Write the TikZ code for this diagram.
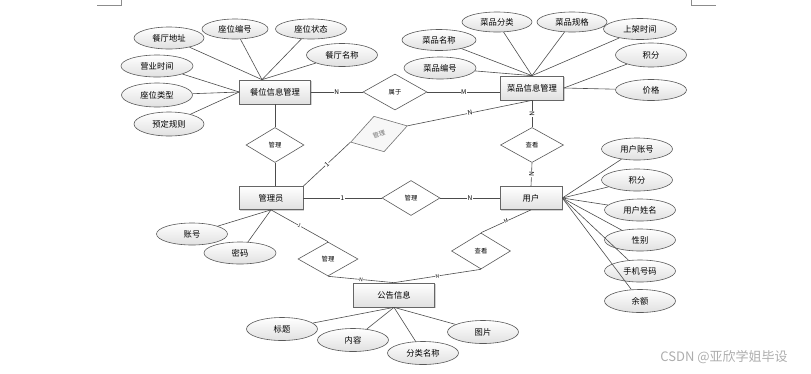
\documentclass[tikz,border=0pt]{standalone}
\usepackage{fontspec}
\newfontfamily\cjk{Noto Sans CJK SC}
\usepackage{tikz}
\usetikzlibrary{shapes.geometric,shadows}

\begin{document}
\begin{tikzpicture}[
  x=1pt, y=-1pt,
  line/.style={draw=black!70, line width=0.6pt},
  entity/.style={
    draw=black!60,
    rectangle,
    line width=0.7pt,
    top color=white,
    bottom color=black!12,
    drop shadow={shadow xshift=1.3pt, shadow yshift=-1.3pt, fill=black!35},
    minimum height=24pt,
    inner sep=1pt,
    font=\cjk\fontsize{8.3}{9}\selectfont
  },
  attr/.style={
    draw=black!65,
    ellipse,
    line width=0.6pt,
    top color=white,
    bottom color=black!12,
    minimum width=71pt,
    minimum height=22pt,
    inner sep=0pt,
    font=\cjk\fontsize{8.3}{9}\selectfont
  },
  rel/.style={
    draw=black!65,
    diamond,
    line width=0.6pt,
    fill=white,
    minimum width=60pt,
    minimum height=35pt,
    inner sep=0pt,
    font=\cjk\fontsize{6.3}{7}\selectfont
  },
  lbl/.style={fill=white, inner sep=0.4pt, midway, sloped,
    font=\cjk\fontsize{6.5}{7}\selectfont}
]
\useasboundingbox (0,0) rectangle (811,373);

\draw[black!45, line width=0.5pt] (97,5) -- (121,5) -- (121,0);
\draw[black!45, line width=0.5pt] (691,0) -- (691,5) -- (716,5);

\node[entity, minimum width=71pt] (canwei) at (275,92) {餐位信息管理};
\node[entity, minimum width=63pt] (caipin) at (532,88) {菜品信息管理};
\node[entity, minimum width=64pt, minimum height=23pt] (admin) at (271,198) {管理员};
\node[entity, minimum width=62pt, minimum height=23pt] (yonghu) at (531,198) {用户};
\node[entity, minimum width=81pt] (gonggao) at (394,295) {公告信息};

\node[rel, minimum width=64pt, minimum height=36pt] (shuyu) at (395,92) {属于};
\node[rel, minimum width=58pt] (gl1) at (275,145) {管理};
\node[rel, rotate=16, fill=black!3, draw=black!55, text=black!55, minimum width=59pt,
  minimum height=37pt] (gl2) at (379,134) {管理};
\node[rel, minimum width=58pt] (gl3) at (411,198) {管理};
\node[rel, minimum width=63pt] (ck1) at (532,145) {查看};
\node[rel, minimum height=34pt] (gl4) at (328,259) {管理};
\node[rel, minimum width=59pt, minimum height=36pt] (ck2) at (481,251) {查看};

\node[attr, minimum width=70pt] (cw1) at (169,38) {餐厅地址};
\node[attr, minimum width=66pt, minimum height=20pt] (cw2) at (235,29) {座位编号};
\node[attr, minimum height=20pt] (cw3) at (311,29) {座位状态};
\node[attr, minimum height=23pt] (cw4) at (342,55) {餐厅名称};
\node[attr, minimum width=72pt] (cw5) at (157,66) {营业时间};
\node[attr, minimum height=24pt] (cw6) at (157,95) {座位类型};
\node[attr, minimum width=70pt, minimum height=24pt] (cw7) at (169,124) {预定规则};

\node[attr, minimum width=74pt, minimum height=21pt] (cp1) at (439,40) {菜品名称};
\node[attr, minimum width=70pt, minimum height=20pt] (cp2) at (497,22) {菜品分类};
\node[attr, minimum width=70pt, minimum height=20pt] (cp3) at (572,22) {菜品规格};
\node[attr, minimum width=73pt, minimum height=21pt] (cp4) at (640,29) {上架时间};
\node[attr, minimum height=24pt] (cp5) at (651,55) {积分};
\node[attr, minimum height=21pt] (cp6) at (651,90) {价格};
\node[attr, minimum width=72pt] (cp7) at (440,68) {菜品编号};

\node[attr] (yh1) at (637,149) {用户账号};
\node[attr] (yh2) at (637,180) {积分};
\node[attr] (yh3) at (640,210) {用户姓名};
\node[attr] (yh4) at (640,240) {性别};
\node[attr] (yh5) at (640,271) {手机号码};
\node[attr, minimum height=23pt] (yh6) at (640,301) {余额};

\node[attr] (ad1) at (192,234) {账号};
\node[attr, minimum width=72pt] (ad2) at (240,253) {密码};

\node[attr, minimum height=23pt] (gg1) at (282,329) {标题};
\node[attr, minimum height=23pt] (gg2) at (353,340) {内容};
\node[attr, minimum height=23pt] (gg3) at (423,353) {分类名称};
\node[attr, minimum height=23pt] (gg4) at (483,332) {图片};

\coordinate (cwtop) at ([xshift=-13pt]canwei.north);

\draw[line] (cw1) -- (cwtop);
\draw[line] (cw2) -- (cwtop);
\draw[line] (cw3) -- (cwtop);
\draw[line] (cw4) -- (cwtop);
\draw[line] (cw5) -- (canwei.west);
\draw[line] (cw6) -- (canwei.west);
\draw[line] (cw7) -- (canwei.west);

\draw[line] (cp1) -- (caipin.north);
\draw[line] (cp2) -- (caipin.north);
\draw[line] (cp3) -- (caipin.north);
\draw[line] (cp4) -- (caipin.north);
\draw[line] (cp7) -- (caipin.north);
\draw[line] (cp5) -- (caipin.east);
\draw[line] (cp6) -- (caipin.east);

\draw[line] (yh1) -- (yonghu.east);
\draw[line] (yh2) -- (yonghu.east);
\draw[line] (yh3) -- (yonghu.east);
\draw[line] (yh4) -- (yonghu.east);
\draw[line] (yh5) -- (yonghu.east);
\draw[line] (yh6) -- (yonghu.east);

\draw[line] (ad1) -- (admin.south);
\draw[line] (ad2) -- (admin.south);

\draw[line] (gg1) -- (gonggao.south);
\draw[line] (gg2) -- (gonggao.south);
\draw[line] (gg3) -- (gonggao.south);
\draw[line] (gg4) -- (gonggao.south);

\draw[line] (canwei.east) -- node[lbl] {N} (shuyu.west);
\draw[line] (shuyu.east) -- node[lbl] {M} (shuyu.east -| caipin.west);
\draw[line] (canwei.south) -- (gl1.north);
\draw[line] (gl1.south) -- (gl1.south |- admin.north);
\draw[line] (admin.north east) -- node[lbl] {1} (gl2.west);
\draw[line] (gl2.east) -- node[lbl] {N} (caipin.south);
\draw[line] (caipin.south) -- node[lbl] {N} (ck1.north);
\draw[line] (ck1.south) -- node[lbl] {N} (yonghu.north);
\draw[line] (admin.east) -- node[lbl] {1} (gl3.west);
\draw[line] (gl3.east) -- node[lbl] {N} (yonghu.west);
\draw[line] (admin.south) -- node[lbl, font=\cjk\fontsize{5}{6}\selectfont] {1} (gl4.north);
\draw[line] (gl4.south) -- node[lbl, font=\cjk\fontsize{5}{6}\selectfont] {N} (gonggao.north);
\draw[line] (yonghu.south) -- node[lbl, font=\cjk\fontsize{5}{6}\selectfont] {M} (ck2.north);
\draw[line] (ck2.south) -- node[lbl, font=\cjk\fontsize{5}{6}\selectfont] {N} (gonggao.north);

\node[font=\cjk\fontsize{13}{14}\selectfont, text=black!32] (wm) at (724,357) {CSDN @亚欣学姐毕设};

\end{tikzpicture}
\end{document}
